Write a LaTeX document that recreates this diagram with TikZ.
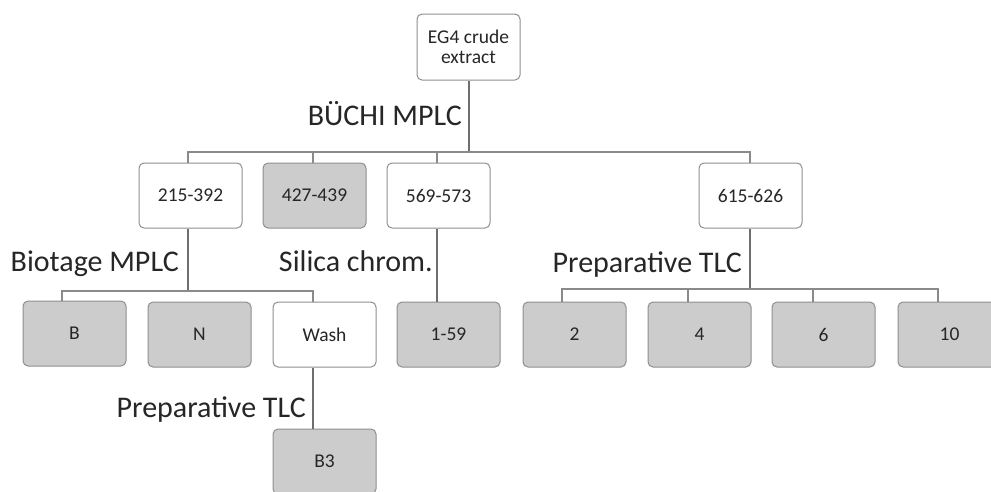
\documentclass[tikz,border=0pt]{standalone}
\usepackage{fontspec}
\setmainfont{Carlito}
\begin{document}
\definecolor{boxline}{HTML}{8F8F8F}
\definecolor{boxgray}{HTML}{CCCCCC}
\definecolor{trunkc}{HTML}{6E6E6E}
\definecolor{busc}{HTML}{8A8A8A}
\definecolor{ink}{HTML}{262626}
\begin{tikzpicture}[x=1pt,y=-1pt,
  fraction/.style={draw=boxline,line width=1pt,rounded corners=5pt,fill=white,
    minimum width=103pt,minimum height=65pt,inner sep=0pt,text=ink,
    font=\fontsize{19.5}{20}\selectfont,align=center},
  pooled/.style={fraction,fill=boxgray},
  method/.style={inner sep=0pt,text=ink,font=\fontsize{30}{32}\selectfont},
  trunk/.style={draw=trunkc,line width=2.6pt},
  bus/.style={draw=busc,line width=2pt}]
\useasboundingbox (0,0) rectangle (991,491);
\clip (0,0) rectangle (991,491);
\fill[white] (0,0) rectangle (991,491);

% crude extract and first-level fractions
\node[fraction,minimum height=66pt] (top) at (468.5,47) {EG4 crude\\extract};
\node[fraction] (r1a) at (190.5,195.5) {215-392};
\node[pooled]   (r1b) at (314.5,195.5) {427-439};
\node[fraction] (r1c) at (438.5,195.5) {569-573};
\node[fraction] (r1d) at (750.5,195.5) {615-626};

% second-level fractions
\node[pooled]   (nB)    at (74.5,333.5)  {B};
\node[pooled]   (nN)    at (199.5,334.5) {N};
\node[fraction] (nWash) at (324.5,334.5) {Wash};
\node[pooled]   (n159)  at (448.5,334.5) {1-59};
\node[pooled]   (n2)    at (574.5,334.5) {2};
\node[pooled]   (n4)    at (699.5,334.5) {4};
\node[pooled]   (n6)    at (823.5,334.5) {6};
\node[pooled]   (n10)   at (949.5,334.5) {10};
\node[pooled]   (nB3)   at (324.5,461.5) {B3};

% junctions of the branching lines
\coordinate (s0) at (469,152);
\coordinate (s1) at (188,291);
\coordinate (s2) at (750,289);

% BÜCHI MPLC
\draw[trunk] (top.south -| s0) -- (s0);
\draw[bus] ([xshift=-2.5pt]r1a.north) |- (s0) -| ([xshift=-0.5pt]r1d.north);
\draw[bus] ([xshift=-1.5pt]r1b.north) -- ([xshift=-1.5pt]r1b.north |- s0);
\draw[bus] ([xshift=-1.5pt]r1c.north) -- ([xshift=-1.5pt]r1c.north |- s0);
\node[method,anchor=base east] (lbuchi) at (462,125) {BÜCHI MPLC};

% Biotage MPLC
\draw[trunk] (r1a.south -| s1) -- (s1);
\draw[bus] ([xshift=-12.5pt]nB.north) |- (s1) -| ([xshift=-11.5pt]nWash.north);
\node[method,anchor=base east] (lbiotage) at (179,271) {Biotage MPLC};

% Silica chromatography
\draw[trunk] ([xshift=-1.5pt]r1c.south) -- ([xshift=-11.5pt]n159.north);
\node[method,anchor=base east] (lsilica) at (433,271) {Silica chrom.};

% Preparative TLC of the wash
\draw[trunk] ([xshift=-11.5pt]nWash.south) -- ([xshift=-11.5pt]nB3.north);
\node[method,anchor=base east] (ltlcA) at (306,417) {Preparative TLC};

% Preparative TLC of 615-626
\draw[trunk] (r1d.south -| s2) -- (s2);
\draw[bus] ([xshift=-12.5pt]n2.north) |- (s2) -| ([xshift=-11.5pt]n10.north);
\draw[bus] ([xshift=-11.5pt]n4.north) -- ([xshift=-11.5pt]n4.north |- s2);
\draw[bus] ([xshift=-10.5pt]n6.north) -- ([xshift=-10.5pt]n6.north |- s2);
\node[method,anchor=base east] (ltlcB) at (742,272) {Preparative TLC};
\end{tikzpicture}
\end{document}
